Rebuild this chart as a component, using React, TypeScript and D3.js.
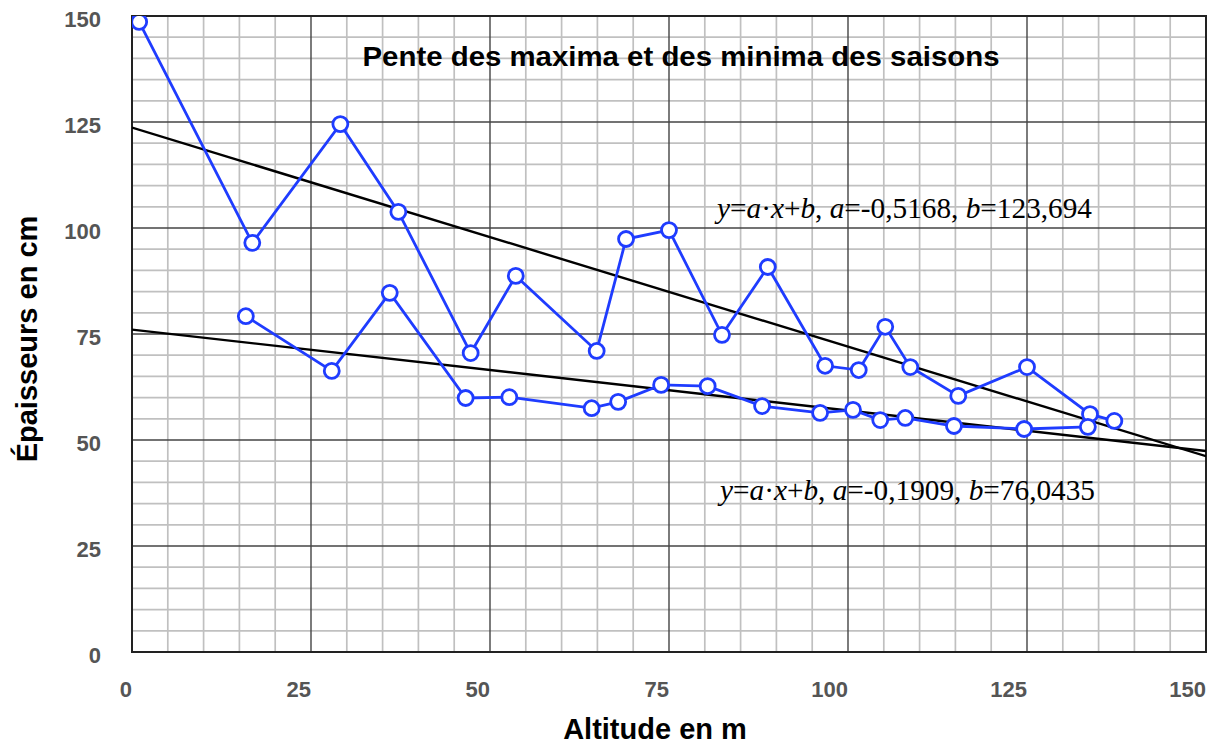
import React from "react";
import * as d3 from "d3";

const maxAlt = [1, 16.8, 29.1, 37.2, 47.3, 53.6, 64.9, 69, 75, 82.4, 88.8, 96.8, 101.5, 105.2, 108.7, 115.4, 125, 133.8, 137.2];
const maxVal = [148.6, 96.5, 124.5, 103.8, 70.5, 88.7, 71, 97.4, 99.5, 74.8, 90.8, 67.5, 66.5, 76.7, 67.2, 60.4, 67.2, 56.1, 54.5];
const minAlt = [15.9, 27.9, 36, 46.6, 52.7, 64.2, 67.9, 73.9, 80.4, 88, 96.1, 100.7, 104.5, 108, 114.8, 124.6, 133.5];
const minVal = [79.2, 66.3, 84.7, 59.9, 60.1, 57.5, 59, 63, 62.7, 58, 56.4, 57.1, 54.7, 55.2, 53.3, 52.6, 53.1];
const fitMax = { a: -0.5168, b: 123.694, aLabel: "-0,5168", bLabel: "123,694" };
const fitMin = { a: -0.1909, b: 76.0435, aLabel: "-0,1909", bLabel: "76,0435" };
const xTicks = [0, 25, 50, 75, 100, 125, 150];
const yTicks = [0, 25, 50, 75, 100, 125, 150];

const L = 132, R = 1206, T = 16, B = 652;
const BLUE = "#1f3cff";
const SANS = "'Liberation Sans', Arial, sans-serif";

export default function App() {
  const x = d3.scaleLinear().domain([0, 150]).range([L, R]);
  const y = d3.scaleLinear().domain([0, 150]).range([B, T]);
  const minor = d3.range(0, 151, 5);
  const line = d3.line<[number, number]>().x(d => x(d[0])).y(d => y(d[1]));
  const maxPts: [number, number][] = maxAlt.map((a, i) => [a, maxVal[i]]);
  const minPts: [number, number][] = minAlt.map((a, i) => [a, minVal[i]]);
  const fitLine = (f: { a: number; b: number }) => line([[0, f.b], [150, f.a * 150 + f.b]]) as string;

  const eq = (f: { aLabel: string; bLabel: string }, px: number, py: number) => (
    <text x={px} y={py} fontFamily="'Liberation Serif', 'Times New Roman', serif" fontSize={29} fill="#000" textLength={375} lengthAdjust="spacingAndGlyphs">
      <tspan fontStyle="italic">y</tspan>=<tspan fontStyle="italic">a</tspan>·<tspan fontStyle="italic">x</tspan>+<tspan fontStyle="italic">b</tspan>, <tspan fontStyle="italic">a</tspan>={f.aLabel}, <tspan fontStyle="italic">b</tspan>={f.bLabel}
    </text>
  );

  return (
    <svg width={1212} height={744} style={{ position: "absolute", left: 0, top: 0, background: "#fff" }}>
      <rect x={0} y={0} width={1212} height={744} fill="#fff" />
      {minor.filter(v => v % 25 !== 0).map(v => (
        <g key={"m" + v}>
          <line x1={x(v)} x2={x(v)} y1={T} y2={B} stroke="#c0c0c0" strokeWidth={1.7} />
          <line x1={L} x2={R} y1={y(v)} y2={y(v)} stroke="#c0c0c0" strokeWidth={1.7} />
        </g>
      ))}
      {xTicks.map(v => (
        <line key={"vx" + v} x1={x(v)} x2={x(v)} y1={T} y2={B} stroke="#444" strokeWidth={1.4} />
      ))}
      {yTicks.map(v => (
        <line key={"hy" + v} x1={L} x2={R} y1={y(v)} y2={y(v)} stroke="#444" strokeWidth={1.4} />
      ))}
      <rect x={L} y={T} width={R - L} height={B - T} fill="none" stroke="#222" strokeWidth={2} />

      {xTicks.map(v => (
        <text key={"xl" + v} x={x(v)} y={697} textAnchor="end" fontFamily={SANS} fontWeight="bold" fontSize={22} fill="#555">{v}</text>
      ))}
      {yTicks.map(v => (
        <text key={"yl" + v} x={101} y={y(v) + 11} textAnchor="end" fontFamily={SANS} fontWeight="bold" fontSize={22} fill="#555">{v}</text>
      ))}

      <text x={681} y={66} textAnchor="middle" fontFamily={SANS} fontWeight="bold" fontSize={28} fill="#000" textLength={637} lengthAdjust="spacingAndGlyphs">Pente des maxima et des minima des saisons</text>
      <text x={655} y={739} textAnchor="middle" fontFamily={SANS} fontWeight="bold" fontSize={29} fill="#000">Altitude en m</text>
      <text transform="translate(37,339) rotate(-90)" textAnchor="middle" fontFamily={SANS} fontWeight="bold" fontSize={29} fill="#000">Épaisseurs en cm</text>

      <defs>
        <clipPath id="clip"><rect x={L} y={T} width={R - L} height={B - T} /></clipPath>
      </defs>
      <g clipPath="url(#clip)">
        <path d={fitLine(fitMax)} stroke="#000" strokeWidth={2.4} fill="none" />
        <path d={fitLine(fitMin)} stroke="#000" strokeWidth={2.4} fill="none" />
      </g>

      <path d={line(maxPts) as string} stroke={BLUE} strokeWidth={2.8} fill="none" />
      <path d={line(minPts) as string} stroke={BLUE} strokeWidth={2.8} fill="none" />
      <g clipPath="url(#clip)">
        {maxPts.map((p, i) => (
          <circle key={"cM" + i} cx={x(p[0])} cy={y(p[1])} r={7.5} fill="#fff" stroke={BLUE} strokeWidth={2.8} />
        ))}
        {minPts.map((p, i) => (
          <circle key={"cm" + i} cx={x(p[0])} cy={y(p[1])} r={7.5} fill="#fff" stroke={BLUE} strokeWidth={2.8} />
        ))}
      </g>

      {eq(fitMax, 717, 218)}
      {eq(fitMin, 720, 500)}
    </svg>
  );
}
